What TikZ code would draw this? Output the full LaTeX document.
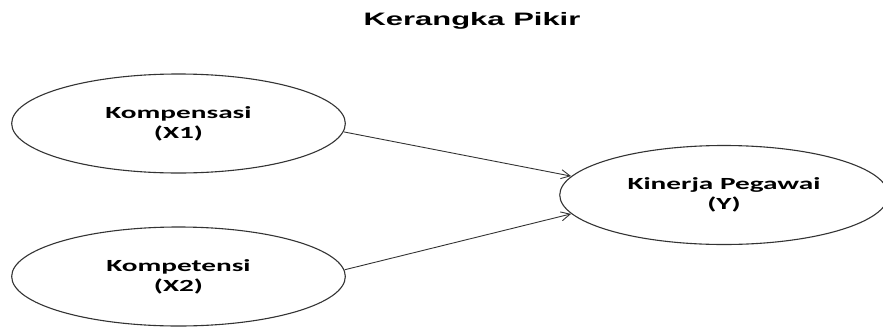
\documentclass[tikz,border=0pt]{standalone}
\usepackage{fontspec}
\setmainfont{Carlito}
\newfontfamily\titlefont{Liberation Sans}
\usetikzlibrary{arrows.meta,shapes.geometric}

\tikzset{
  var/.style={draw=black!80, line width=1.1pt, ellipse, inner sep=0pt,
    minimum width=194pt, minimum height=99pt, xscale=1.72, align=center,
    font=\fontsize{17}{20}\selectfont\bfseries},
  link/.style={draw=black!80, line width=0.9pt,
    -{Straight Barb[length=9pt,width=9pt]}}
}

\begin{document}
\begin{tikzpicture}[x=1pt,y=-1pt]
\useasboundingbox (0,0) rectangle (883,327);
\clip (0,0) rectangle (883,327);

%% title
\node[xscale=1.72, font=\titlefont\fontsize{18}{20}\selectfont\bfseries] (title) at (472,21) {Kerangka Pikir};

%% variables
\node[var] (x1) at (178.5,123.5) {Kompensasi\\(X1)};
\node[var] (x2) at (178.5,276.5) {Kompetensi\\(X2)};
\node[var, minimum width=191pt] (y) at (724,195) {Kinerja Pegawai\\(Y)};

%% paths
\draw[link] (x1.-5) -- (y.168);   %% x1 -> y
\draw[link] (x2.4) -- (y.192);    %% x2 -> y
\end{tikzpicture}
\end{document}
